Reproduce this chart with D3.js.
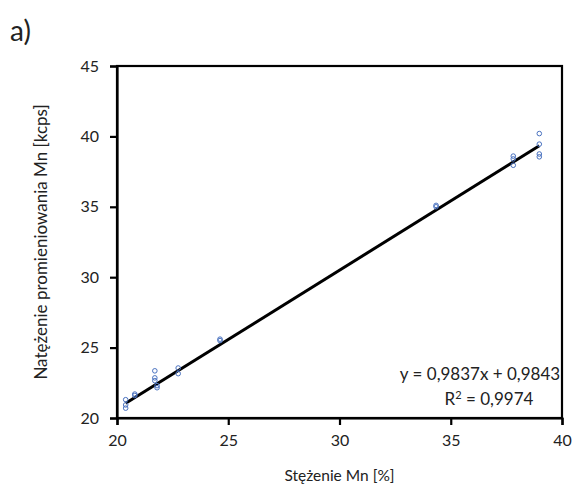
<!DOCTYPE html>
<html>
<head>
<meta charset="utf-8">
<script src="https://cdn.jsdelivr.net/npm/d3@7"></script>
<style>
  body { margin: 0; background: #fff; }
  text { font-family: Lato, "Noto Sans", sans-serif; fill: #222; }
</style>
</head>
<body>
<script>
// measured points (Mn concentration %, intensity kcps)
var concentration = [20.39, 20.39, 20.39, 20.8, 20.8, 21.7, 21.7, 21.7, 21.8, 21.8,
  22.75, 22.75, 24.63, 24.63, 34.34, 34.34, 37.81, 37.81, 37.81, 38.98, 38.98, 38.98, 38.98];
var intensity = [21.3, 20.93, 20.7, 21.7, 21.6, 23.35, 22.85, 22.65, 22.3, 22.15,
  23.55, 23.15, 25.6, 25.5, 35.1, 35.0, 38.6, 38.4, 37.95, 40.2, 39.45, 38.75, 38.55];
var xTicks = [20, 25, 30, 35, 40];
var yTicks = [20, 25, 30, 35, 40, 45];
var slope = 0.9837, intercept = 0.9843;
var eqLabel = "y = 0,9837x + 0,9843";
var r2Label = "0,9974";

var width = 576, height = 491;
var margin = {top: 66, right: 14, bottom: 73, left: 117};

var svg = d3.select("body").append("svg")
  .attr("width", width)
  .attr("height", height);

var x = d3.scaleLinear().domain([20, 40]).range([margin.left, width - margin.right]);
var y = d3.scaleLinear().domain([20, 45]).range([height - margin.bottom, margin.top]);

// frame
svg.append("rect")
  .attr("x", x(20)).attr("y", y(45))
  .attr("width", x(40) - x(20)).attr("height", y(20) - y(45))
  .attr("fill", "none").attr("stroke", "#000").attr("stroke-width", 2.2);

var xAxis = svg.append("g")
  .attr("transform", "translate(0," + y(20) + ")")
  .call(d3.axisBottom(x).tickValues(xTicks).tickSize(7).tickPadding(10));
var yAxis = svg.append("g")
  .attr("transform", "translate(" + x(20) + ",0)")
  .call(d3.axisLeft(y).tickValues(yTicks).tickSize(7).tickPadding(11));

[xAxis, yAxis].forEach(function(a) {
  a.select(".domain").attr("stroke-width", 2.2);
  a.selectAll(".tick line").attr("stroke-width", 2.2);
  a.selectAll(".tick text").attr("font-size", 16).attr("fill", "#222")
    .style("font-family", "Lato, 'Noto Sans', sans-serif");
});

// trend line
var xmin = d3.min(concentration), xmax = d3.max(concentration);
svg.append("line")
  .attr("x1", x(xmin)).attr("y1", y(slope * xmin + intercept))
  .attr("x2", x(xmax)).attr("y2", y(slope * xmax + intercept))
  .attr("stroke", "#000").attr("stroke-width", 3);

// points
svg.append("g").selectAll("circle")
  .data(concentration)
  .enter().append("circle")
  .attr("cx", function(d) { return x(d); })
  .attr("cy", function(d, i) { return y(intensity[i]); })
  .attr("r", 2.3)
  .attr("fill", "none")
  .attr("stroke", "#4a72c0")
  .attr("stroke-width", 1);

// equation
svg.append("text")
  .attr("x", 480).attr("y", 380)
  .attr("text-anchor", "middle").attr("font-size", 17)
  .text(eqLabel);
var r2 = svg.append("text")
  .attr("x", 489).attr("y", 405)
  .attr("text-anchor", "middle").attr("font-size", 17);
r2.append("tspan").text("R");
r2.append("tspan").attr("font-size", 11).attr("dy", -6).text("2");
r2.append("tspan").attr("dy", 6).text(" = " + r2Label);

// axis titles
svg.append("text")
  .attr("x", (x(20) + x(40)) / 2).attr("y", 481)
  .attr("text-anchor", "middle").attr("font-size", 15.5)
  .text("Stężenie Mn [%]");
svg.append("text")
  .attr("transform", "translate(47,242) rotate(-90)")
  .attr("text-anchor", "middle").attr("font-size", 17)
  .text("Natężenie promieniowania Mn [kcps]");

svg.append("text")
  .attr("x", 10).attr("y", 41)
  .attr("font-size", 28)
  .text("a)");
</script>
</body>
</html>
